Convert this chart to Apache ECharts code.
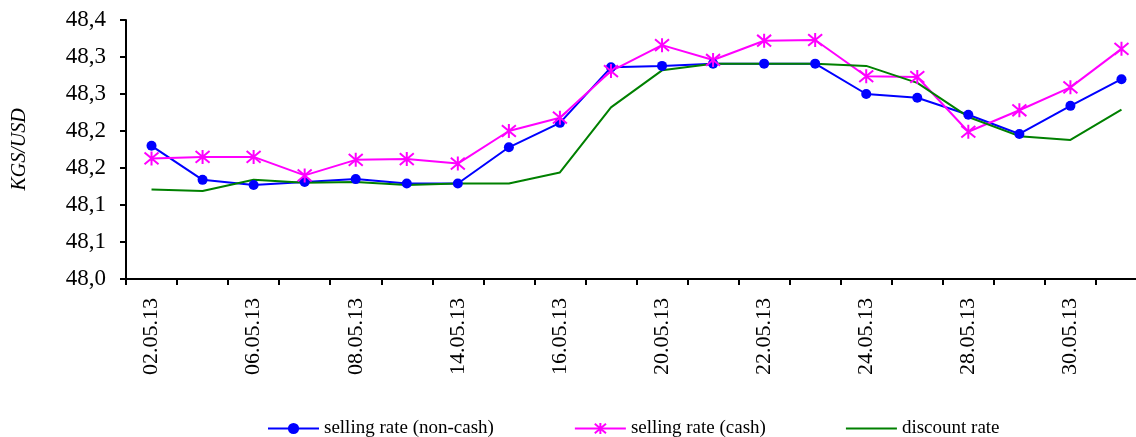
<!DOCTYPE html>
<html>
<head>
<meta charset="utf-8">
<script src="https://cdn.jsdelivr.net/npm/echarts@6/dist/echarts.min.js"></script>
<style>html,body{margin:0;padding:0;background:#fff;}#c{width:1136px;height:437px;}</style>
</head>
<body>
<div id="c"></div>
<script>
const categories = ['02.05.13','03.05.13','06.05.13','07.05.13','08.05.13','13.05.13','14.05.13','15.05.13','16.05.13','17.05.13','20.05.13','21.05.13','22.05.13','23.05.13','24.05.13','27.05.13','28.05.13','29.05.13','30.05.13','31.05.13'];
const sellingNonCash = [48.180,48.134,48.127,48.131,48.135,48.129,48.129,48.178,48.211,48.286,48.288,48.291,48.291,48.291,48.250,48.245,48.222,48.196,48.234,48.270];
const sellingCash = [48.163,48.165,48.165,48.140,48.161,48.162,48.156,48.200,48.218,48.281,48.316,48.296,48.322,48.323,48.274,48.273,48.199,48.228,48.259,48.311];
const discountRate = [48.121,48.119,48.134,48.130,48.131,48.127,48.129,48.129,48.144,48.232,48.282,48.291,48.291,48.291,48.288,48.265,48.219,48.193,48.188,48.229];
const yTickLabels = ['48,0','48,1','48,1','48,2','48,2','48,3','48,3','48,4'];
const seriesNames = ['selling rate (non-cash)','selling rate (cash)','discount rate'];

const FONT = 'Liberation Serif';
const chart = echarts.init(document.getElementById('c'));
chart.setOption({
  animation: false,
  backgroundColor: '#fff',
  grid: {left: 126, top: 20, width: 1021, height: 259, outerBoundsMode: 'none', containLabel: false},
  legend: {
    top: 419, left: 267, padding: 0, itemGap: 80, itemWidth: 51, itemHeight: 14,
    textStyle: {fontFamily: FONT, fontSize: 19, color: '#000'},
    data: [
      {name: seriesNames[0]},
      {name: seriesNames[1]},
      {name: seriesNames[2], icon: 'path://M0,0L50,0L50,2L0,2Z'}
    ]
  },
  xAxis: {
    type: 'category', data: categories, boundaryGap: true,
    axisLine: {lineStyle: {color: '#000', width: 2}},
    axisTick: {show: true, interval: 0, length: 6, lineStyle: {color: '#000', width: 2}},
    axisLabel: {interval: 1, rotate: 90, margin: 19, fontFamily: FONT, fontSize: 22, color: '#000'},
    splitLine: {show: false}
  },
  yAxis: {
    type: 'value', min: 48.0, max: 48.35, interval: 0.05,
    name: 'KGS/USD', nameLocation: 'middle', nameGap: 96,
    nameTextStyle: {fontFamily: FONT, fontSize: 20, fontStyle: 'italic', color: '#000'},
    axisLine: {show: true, lineStyle: {color: '#000', width: 2}},
    axisTick: {show: true, length: 6, lineStyle: {color: '#000', width: 2}},
    axisLabel: {margin: 20, fontFamily: FONT, fontSize: 23, color: '#000',
      formatter: v => yTickLabels[Math.round((v - 48.0) / 0.05)]},
    splitLine: {show: false}
  },
  series: [
    {name: seriesNames[0], type: 'line', data: sellingNonCash, symbol: 'circle', symbolSize: 10,
      lineStyle: {color: '#0000FF', width: 2}, itemStyle: {color: '#0000FF'}},
    {name: seriesNames[1], type: 'line', data: sellingCash,
      symbol: 'path://M0,0L10,10M10,0L0,10M5,-1L5,11', symbolSize: 14,
      lineStyle: {color: '#FF00FF', width: 2},
      itemStyle: {color: 'rgba(0,0,0,0)', borderColor: '#FF00FF', borderWidth: 2}},
    {name: seriesNames[2], type: 'line', data: discountRate, symbol: 'none', showSymbol: false,
      lineStyle: {color: '#008000', width: 2}, itemStyle: {color: '#008000'}}
  ]
});
</script>
</body>
</html>
